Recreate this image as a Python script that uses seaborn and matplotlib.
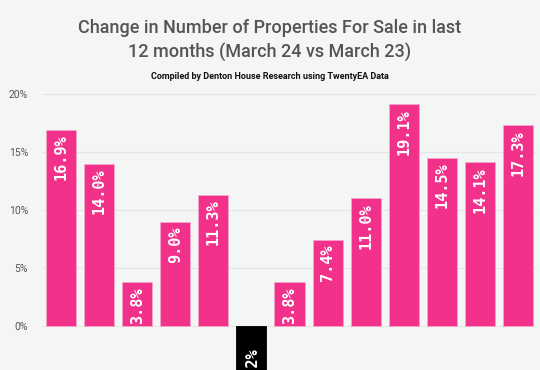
import numpy as np
import pandas as pd
import matplotlib
matplotlib.use('Agg')
import matplotlib.pyplot as plt
import seaborn as sns

# values (x labels are cut off in the reference)
positions = ['R1', 'R2', 'R3', 'R4', 'R5', 'R6', 'R7', 'R8', 'R9', 'R10', 'R11', 'R12', 'R13']
change_pct = [16.9, 14.0, 3.8, 9.0, 11.3, -4.2, 3.8, 7.4, 11.0, 19.1, 14.5, 14.1, 17.3]
y_ticks = [0, 5, 10, 15, 20]

bg = '#F4F5F5'
pink = '#F2318A'

sns.set_theme(style='whitegrid')
plt.rcParams['font.family'] = ['Roboto', 'DejaVu Sans']

df = pd.DataFrame({'region': positions, 'change': change_pct})
df['sign'] = np.where(df['change'] < 0, 'neg', 'pos')

fig = plt.figure(figsize=(5.4, 3.7), dpi=100, facecolor=bg)
ax = fig.add_axes([42 / 540, -0.038, 495 / 540, 0.746 + 0.038])
ax.set_facecolor(bg)

sns.barplot(data=df, x='region', y='change', hue='sign', dodge=False,
            palette={'pos': pink, 'neg': '#000000'}, width=0.79, saturation=1,
            edgecolor='#F7A6CA', linewidth=0.6, legend=False, ax=ax)
for p in ax.patches:
    if p.get_height() < 0:
        p.set_edgecolor('#000000')

label_font = dict(rotation=90, ha='center', color='white', fontsize=11,
                  fontweight='bold', fontfamily=['DejaVu Sans Mono'])
for i, v in enumerate(change_pct):
    lbl = '{:.1f}%'.format(v)
    if v < 0:
        ax.text(i, -1.75, lbl, va='top', **label_font)
    elif v < 5:
        ax.text(i, 0.2, lbl, va='bottom', **label_font)
    else:
        ax.text(i, v - 0.4, lbl, va='top', **label_font)

ax.set_xlim(-0.5, 12.5)
ax.set_ylim(-5, 20)
ax.set_yticks(y_ticks)
ax.set_yticklabels(['{}%'.format(t) for t in y_ticks], color='#555555', fontsize=7.5)
ax.tick_params(axis='y', length=0, pad=10)
ax.set_xticks([])
ax.set_xlabel('')
ax.set_ylabel('')
ax.grid(axis='y', color='#E4E6E6', linewidth=0.8)
ax.grid(axis='x', visible=False)
ax.set_axisbelow(True)
for s in ax.spines.values():
    s.set_visible(False)

fig.text(0.5, 1 - 33 / 370, 'Change in Number of Properties For Sale in last',
         ha='center', va='baseline', fontsize=13, color='#555555', fontweight='medium')
fig.text(0.5, 1 - 58 / 370, '12 months (March 24 vs March 23)',
         ha='center', va='baseline', fontsize=13, color='#555555', fontweight='medium')
fig.text(0.5, 1 - 79 / 370, 'Compiled by Denton House Research using TwentyEA Data',
         ha='center', va='baseline', fontsize=6.5, color='#111111', fontweight='bold')

fig.savefig('out.png', dpi=100, facecolor=bg)
